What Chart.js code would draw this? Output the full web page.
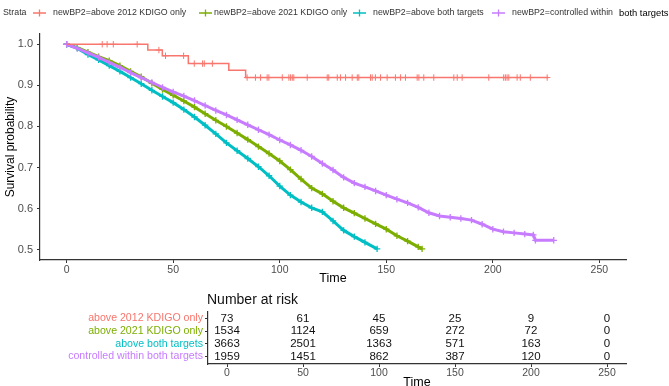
<!DOCTYPE html>
<html>
<head>
<meta charset="utf-8">
<script src="https://cdn.jsdelivr.net/npm/chart.js@4"></script>
<style>
  html, body { margin: 0; padding: 0; background: #fff; overflow: hidden; }
  #wrap { position: relative; width: 669px; height: 386px; }
  #km { position: absolute; left: 0; top: 0; }
  #risk { position: absolute; left: 0; top: 290px; }
</style>
</head>
<body>
<div id="wrap">
  <canvas id="km" width="669" height="290"></canvas>
  <canvas id="risk" width="669" height="100"></canvas>
</div>
<script>
// strata names and ggplot default hue colours
const strata = ['above 2012 KDIGO only', 'above 2021 KDIGO only', 'above both targets', 'controlled within both targets'];
const strataColours = ['#F8766D', '#7CAE00', '#00BFC4', '#C77CFF'];

// x axis ticks (time)
const tickTimes = [0, 50, 100, 150, 200, 250];
const survTicks = [0.5, 0.6, 0.7, 0.8, 0.9, 1.0];

// above 2012 KDIGO only (small group, clear steps)
const timeRed = [0, 38.1, 44.9, 57.1, 76.1, 84.0, 226];
const survRed = [1, 0.986, 0.972, 0.953, 0.937, 0.919, 0.919];
const censorRed = [16.7, 19.0, 21.9, 33.1, 43.3, 46.4, 54.9, 59.9, 63.8, 64.6, 68.4,
  84.7, 88.6, 91.0, 94.1, 94.9, 101.2, 104.3, 105.1, 105.9, 106.6, 112.9, 122.3, 123.0,
  127.0, 128.5, 130.9, 134.0, 136.4, 137.1, 142.6, 143.4, 144.9, 147.3, 150.4, 154.3,
  156.7, 159.0, 164.5, 165.3, 167.6, 172.3, 181.7, 183.3, 185.6, 198.1, 205.1, 205.9,
  206.7, 207.5, 211.4, 212.9, 217.6, 225.5];

// above 2021 KDIGO only
const timeGreen = [0, 5, 10, 15, 20, 25, 30, 35, 40, 45, 50, 55, 60, 65, 70, 75, 80, 85, 90, 95,
  100, 105, 110, 115, 120, 125, 130, 135, 140, 145, 150, 155, 160, 165, 166.8];
const survGreen = [1, 0.992, 0.981, 0.97, 0.96, 0.948, 0.934, 0.921, 0.905, 0.89,
  0.876, 0.862, 0.847, 0.831, 0.815, 0.8, 0.784, 0.768, 0.751, 0.734,
  0.716, 0.695, 0.672, 0.65, 0.636, 0.618, 0.602, 0.589, 0.576, 0.563,
  0.55, 0.534, 0.521, 0.507, 0.502];

// above both targets
const timeCyan = [0, 5, 10, 15, 20, 25, 30, 35, 40, 45, 50, 55, 60, 65, 70, 75, 80, 85, 90, 95,
  100, 105, 110, 115, 120, 125, 130, 135, 140, 145.7];
const survCyan = [1, 0.99, 0.975, 0.962, 0.948, 0.934, 0.919, 0.904, 0.888, 0.873,
  0.858, 0.841, 0.823, 0.803, 0.782, 0.76, 0.741, 0.722, 0.702, 0.68,
  0.655, 0.633, 0.616, 0.602, 0.592, 0.57, 0.547, 0.532, 0.518, 0.502];

// controlled within both targets
const timePurple = [0, 5, 10, 15, 20, 25, 30, 35, 40, 45, 50, 55, 60, 65, 70, 75, 80, 85, 90, 95,
  100, 105, 110, 115, 120, 125, 130, 135, 140, 145, 150, 155, 160, 165, 170, 175, 180, 185,
  190, 195, 200, 205, 210, 215, 219, 220, 228.6];
const survPurple = [1, 0.99, 0.979, 0.968, 0.956, 0.944, 0.931, 0.919, 0.907, 0.895,
  0.884, 0.874, 0.863, 0.851, 0.839, 0.828, 0.816, 0.804, 0.792, 0.78,
  0.767, 0.755, 0.742, 0.727, 0.71, 0.694, 0.676, 0.662, 0.653, 0.643,
  0.633, 0.623, 0.614, 0.603, 0.59, 0.582, 0.579, 0.576, 0.572, 0.562,
  0.55, 0.544, 0.541, 0.538, 0.536, 0.523, 0.523];

// number at risk table
const riskTimes = [0, 50, 100, 150, 200, 250];
const risk2012 = [73, 61, 45, 25, 9, 0];
const risk2021 = [1534, 1124, 659, 272, 72, 0];
const riskBoth = [3663, 2501, 1363, 571, 163, 0];
const riskCtrl = [1959, 1451, 862, 387, 120, 0];

const FONT = '"Liberation Sans", Arial, Helvetica, sans-serif';
Chart.defaults.font.family = FONT;

const toXY = (ts, ss) => ts.map((t, i) => ({ x: t, y: ss[i] }));

// value of the red step curve at a censor time
function redAt(t) {
  let s = survRed[0];
  timeRed.forEach((tt, i) => { if (tt <= t) s = survRed[i]; });
  return s;
}

const curveStyle = (colour, order) => ({
  borderColor: colour,
  backgroundColor: colour,
  borderWidth: 3,
  pointStyle: 'cross',
  pointRadius: 3.2,
  pointBorderWidth: 1.3,
  pointBorderColor: colour,
  tension: 0,
  fill: false,
  order: order
});

// legend row across the top, drawn like ggsurvplot
const strataLegend = {
  id: 'strataLegend',
  afterDraw(chart) {
    const ctx = chart.ctx;
    const markX = [33, 199, 353, 492];
    const textX = [53, 214, 373, 512];
    const y = 13;
    ctx.save();
    ctx.textBaseline = 'middle';
    ctx.font = '8.8px ' + FONT;
    ctx.fillStyle = '#333';
    ctx.fillText('Strata', 3, y);
    strata.forEach((name, i) => {
      ctx.strokeStyle = strataColours[i];
      ctx.lineWidth = 1.3;
      ctx.beginPath();
      ctx.moveTo(markX[i], y); ctx.lineTo(markX[i] + 13, y);
      ctx.moveTo(markX[i] + 6.5, y - 3.5); ctx.lineTo(markX[i] + 6.5, y + 3.5);
      ctx.stroke();
      ctx.fillStyle = '#333';
      ctx.font = '8.8px ' + FONT;
      const cut = name.indexOf(' both targets');
      if (i === 3 && cut > 0) {
        ctx.fillText('newBP2=' + name.slice(0, cut), textX[i], y);
        ctx.fillStyle = '#000';
        ctx.font = '9.4px ' + FONT;
        ctx.fillText(name.slice(cut + 1), 619, y);
      } else {
        ctx.fillText('newBP2=' + name, textX[i], y);
      }
    });
    ctx.restore();
  }
};

new Chart(document.getElementById('km'), {
  type: 'line',
  data: {
    datasets: [
      Object.assign(curveStyle(strataColours[1], 3), { data: toXY(timeGreen, survGreen) }),
      Object.assign(curveStyle(strataColours[2], 2), { data: toXY(timeCyan, survCyan) }),
      Object.assign(curveStyle(strataColours[3], 1), { data: toXY(timePurple, survPurple) }),
      {
        data: toXY(timeRed, survRed),
        borderColor: strataColours[0],
        borderWidth: 1.5,
        stepped: true,
        pointRadius: 0,
        order: 0
      },
      {
        data: censorRed.map(t => ({ x: t, y: redAt(t) })),
        showLine: false,
        pointStyle: 'cross',
        pointRadius: 3.2,
        pointBorderWidth: 1,
        pointBorderColor: strataColours[0],
        order: 0
      }
    ]
  },
  options: {
    responsive: false,
    animation: false,
    layout: { padding: { top: 34, right: 43, left: 0, bottom: 0 } },
    plugins: { legend: { display: false }, tooltip: { enabled: false } },
    scales: {
      x: {
        type: 'linear',
        min: -12.5,
        max: 262.5,
        afterBuildTicks: s => { s.ticks = tickTimes.map(v => ({ value: v })); },
        afterFit: s => { s.height = 30; },
        grid: { drawOnChartArea: false, tickLength: 3, color: '#333', lineWidth: 1 },
        border: { color: '#333', width: 1.2 },
        ticks: { color: '#4d4d4d', font: { size: 10.5 }, padding: 1, maxRotation: 0 },
        title: { display: true, text: 'Time', color: '#000', font: { size: 12.5 }, padding: { top: 0, bottom: 4 } }
      },
      y: {
        type: 'linear',
        min: 0.475,
        max: 1.025,
        afterBuildTicks: s => { s.ticks = survTicks.map(v => ({ value: v })); },
        afterFit: s => { s.width = 40; },
        grid: { drawOnChartArea: false, tickLength: 3, color: '#333', lineWidth: 1 },
        border: { color: '#333', width: 1.2 },
        ticks: { color: '#4d4d4d', font: { size: 11 }, padding: 4, callback: v => v.toFixed(1) },
        title: { display: true, text: 'Survival probability', color: '#000', font: { size: 12 }, padding: { top: 3, bottom: 0 } }
      }
    }
  },
  plugins: [strataLegend]
});

// numbers at risk, written at the table's data positions
const riskRows = [risk2012, risk2021, riskBoth, riskCtrl];
const riskNumbers = {
  id: 'riskNumbers',
  afterDatasetsDraw(chart) {
    const ctx = chart.ctx;
    ctx.save();
    ctx.font = '11.5px ' + FONT;
    ctx.fillStyle = '#111';
    ctx.textAlign = 'center';
    ctx.textBaseline = 'middle';
    chart.data.datasets.forEach((ds, r) => {
      chart.getDatasetMeta(r).data.forEach((pt, i) => {
        ctx.fillText(String(ds.data[i].n), pt.x, pt.y);
      });
    });
    ctx.font = '14px ' + FONT;
    ctx.textAlign = 'left';
    ctx.fillStyle = '#111';
    ctx.fillText('Number at risk', chart.chartArea.left - 1, 10);
    ctx.restore();
  }
};

new Chart(document.getElementById('risk'), {
  type: 'scatter',
  data: {
    datasets: riskRows.map((row, r) => ({
      data: riskTimes.map((t, i) => ({ x: t, y: r, n: row[i] })),
      pointRadius: 0
    }))
  },
  options: {
    responsive: false,
    animation: false,
    layout: { padding: { top: 22, right: 43, left: 0, bottom: 0 } },
    plugins: { legend: { display: false }, tooltip: { enabled: false } },
    scales: {
      x: {
        type: 'linear',
        min: -12.5,
        max: 262.5,
        afterBuildTicks: s => { s.ticks = tickTimes.map(v => ({ value: v })); },
        afterFit: s => { s.height = 26; },
        grid: { drawOnChartArea: false, tickLength: 3, color: '#333', lineWidth: 1 },
        border: { color: '#333', width: 1.2 },
        ticks: { color: '#4d4d4d', font: { size: 10.5 }, padding: 0, maxRotation: 0 },
        title: { display: true, text: 'Time', color: '#000', font: { size: 12.5 }, padding: { top: 0, bottom: 0 } }
      },
      y: {
        type: 'linear',
        reverse: true,
        min: -0.5,
        max: 3.6,
        afterBuildTicks: s => { s.ticks = [0, 1, 2, 3].map(v => ({ value: v })); },
        afterFit: s => { s.width = 208; },
        grid: { drawOnChartArea: false, tickLength: 3, color: '#333', lineWidth: 1 },
        border: { color: '#333', width: 1.2 },
        ticks: {
          font: { size: 10.6 },
          padding: 2,
          color: c => strataColours[c.index],
          callback: v => strata[v]
        }
      }
    }
  },
  plugins: [riskNumbers]
});
</script>
</body>
</html>
